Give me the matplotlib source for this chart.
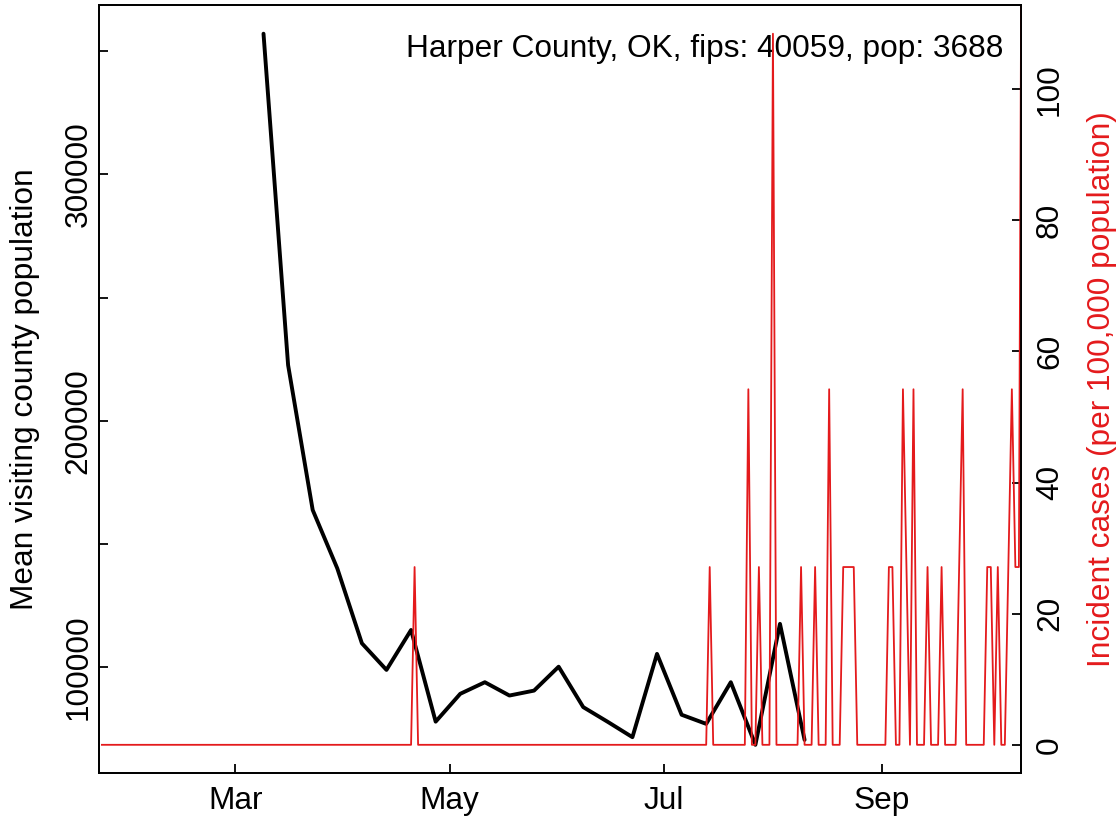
import pandas as pd
import matplotlib
matplotlib.use('Agg')
import matplotlib.pyplot as plt

plt.rcParams['font.family'] = ['Liberation Sans', 'DejaVu Sans']
plt.rcParams['font.size'] = 22.8

# Weekly mean visiting county population (black line)
visit_start = '2020-03-09'
visit_pop = [357100, 222600, 163800, 140100, 109700, 98900, 115100, 77900,
             89200, 93900, 88500, 90500, 100200, 83800, 77800, 71600,
             105400, 80700, 77000, 93900, 68500, 117600, 70500]

# Daily new cases (red line); days not listed had no cases
county_pop = 3688
case_first, case_last = '2020-01-23', '2020-10-11'
case_dates = ['2020-04-21', '2020-07-14', '2020-07-25', '2020-07-28', '2020-08-01',
              '2020-08-09', '2020-08-13', '2020-08-17', '2020-08-21', '2020-08-22',
              '2020-08-23', '2020-08-24', '2020-09-03', '2020-09-04', '2020-09-07',
              '2020-09-08', '2020-09-10', '2020-09-14', '2020-09-18', '2020-09-23',
              '2020-09-24', '2020-10-01', '2020-10-02', '2020-10-04', '2020-10-07',
              '2020-10-08', '2020-10-09', '2020-10-10', '2020-10-11']
case_counts = [1, 1, 2, 1, 4,
               1, 1, 2, 1, 1,
               1, 1, 1, 1, 2,
               1, 2, 1, 1, 1,
               2, 1, 1, 1, 1,
               2, 1, 1, 6]

month_ticks = ['2020-03-01', '2020-05-01', '2020-07-01', '2020-09-01']
month_labels = ['Mar', 'May', 'Jul', 'Sep']
title = 'Harper County, OK, fips: 40059, pop: 3688'

red = '#E41A1C'

visit_dates = pd.date_range(visit_start, periods=len(visit_pop), freq='7D')
cases = pd.Series(0.0, index=pd.date_range(case_first, case_last))
cases[pd.to_datetime(case_dates)] = case_counts
incid = cases / county_pop * 100000

x_lo = pd.Timestamp('2020-01-22 06:00')
x_hi = pd.Timestamp('2020-10-10 12:00')

fig = plt.figure(figsize=(11.19, 8.22), dpi=100)
ax = fig.add_axes([0.0887, 0.0593, 0.8234, 0.9343])
ax.plot(visit_dates, visit_pop, color='black', lw=2.8,
        solid_capstyle='round', solid_joinstyle='round')
lo, hi = min(visit_pop), max(visit_pop)
r = hi - lo
ax.set_ylim(lo - 0.04 * r, hi + 0.04 * r)
yt = list(range(100000, 350001, 50000))
ax.set_yticks(yt)
ax.set_yticklabels([str(v) if v % 100000 == 0 else '' for v in yt])
ax.set_xlim(x_lo, x_hi)
ax.set_xticks(pd.to_datetime(month_ticks))
ax.set_xticklabels(month_labels)
ax.set_ylabel('Mean visiting county population')
ax.yaxis.set_label_coords(-0.0644, 0.5)

ax2 = ax.twinx()
ax2.plot(incid.index, incid.values, color=red, lw=1.3)
top = incid[incid.index <= x_hi].max()
ax2.set_ylim(-0.04 * top, 1.04 * top)
ax2.set_yticks([0, 20, 40, 60, 80, 100])
ax2.set_ylabel('Incident cases (per 100,000 population)', color=red)
ax2.yaxis.set_label_coords(1.0716, 0.5)

for a in (ax, ax2):
    for s in a.spines.values():
        s.set_linewidth(1.3)
ax.tick_params(axis='both', direction='in', length=6.2, width=1.3)
ax.tick_params(axis='x', pad=9.5)
ax.tick_params(axis='y', pad=4, labelrotation=90)
ax2.tick_params(axis='y', direction='in', length=6.2, width=1.3, pad=10.3,
                labelrotation=90)
for lab in ax.get_yticklabels() + ax2.get_yticklabels():
    lab.set_va('center')

ax.text(0.9808, 0.9331, title, transform=ax.transAxes, ha='right', va='baseline')

fig.savefig('out.png', dpi=100)
